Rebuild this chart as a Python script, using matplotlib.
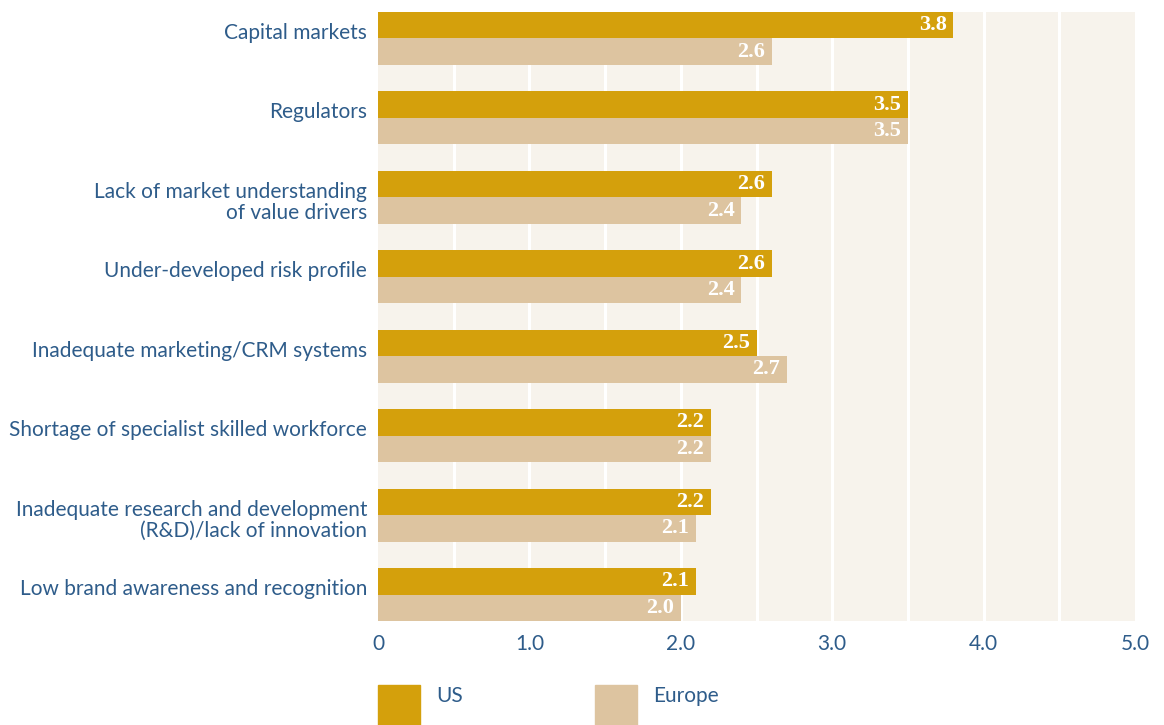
import matplotlib.pyplot as plt
import matplotlib.transforms as mtransforms
from matplotlib.patches import Rectangle
import numpy as np

categories = [
    "Capital markets",
    "Regulators",
    "Lack of market understanding\nof value drivers",
    "Under-developed risk profile",
    "Inadequate marketing/CRM systems",
    "Shortage of specialist skilled workforce",
    "Inadequate research and development\n(R&D)/lack of innovation",
    "Low brand awareness and recognition",
]
us = [3.8, 3.5, 2.6, 2.6, 2.5, 2.2, 2.2, 2.1]
europe = [2.6, 3.5, 2.4, 2.4, 2.7, 2.2, 2.1, 2.0]
xticks = [0, 1, 2, 3, 4, 5]
xtick_labels = ["0", "1.0", "2.0", "3.0", "4.0", "5.0"]

US_COLOR = "#D4A00C"
EU_COLOR = "#DDC4A0"
BG_COLOR = "#F7F3EC"
TEXT_COLOR = "#2E5C8A"
SANS = ["Lato", "DejaVu Sans"]

fig = plt.figure(figsize=(11.64, 7.25), dpi=100)
ax = fig.add_axes([378 / 1164, 1 - 621 / 725, (1135 - 378) / 1164, 609 / 725])
ax.set_facecolor(BG_COLOR)

y = np.arange(len(categories))
h = 1 / 3

# light vertical gridlines every 0.5
for gx in np.arange(0.5, 5.0, 0.5):
    ax.axvline(gx, color="white", lw=2.2, zorder=1)

ax.barh(y - h / 2, us, height=h, color=US_COLOR, zorder=2)
ax.barh(y + h / 2, europe, height=h, color=EU_COLOR, zorder=2)

for yy, v in zip(y - h / 2, us):
    ax.text(v - 0.045, yy, f"{v:.1f}", ha="right", va="center", color="white",
            fontsize=16, fontweight="bold", family="Liberation Serif", zorder=3)
for yy, v in zip(y + h / 2, europe):
    ax.text(v - 0.045, yy, f"{v:.1f}", ha="right", va="center", color="white",
            fontsize=16, fontweight="bold", family="Liberation Serif", zorder=3)

ax.set_xlim(0, 5)
ax.set_ylim(len(categories) - 1 + h, -h)

ax.set_xticks(xticks)
ax.set_xticklabels(xtick_labels, family=SANS, fontsize=15, color=TEXT_COLOR)
ax.set_yticks([])
ax.tick_params(axis="both", length=0)
ax.tick_params(axis="x", pad=9)
for s in ax.spines.values():
    s.set_visible(False)

# category names hang from the top of each bar pair
label_tf = mtransforms.blended_transform_factory(ax.transAxes, ax.transData) + \
    mtransforms.ScaledTranslation(-11 / 100, -11 / 100, fig.dpi_scale_trans)
for yy, name in zip(y - h, categories):
    ax.text(0, yy, name, transform=label_tf, ha="right", va="top",
            family=SANS, fontsize=15, color=TEXT_COLOR, linespacing=1.05)

# legend squares along the bottom edge
for x0, col, label in [(378, US_COLOR, "US"), (595, EU_COLOR, "Europe")]:
    fig.add_artist(Rectangle((x0 / 1164, -0.02), 42 / 1164, (40 / 725) + 0.02,
                             transform=fig.transFigure, color=col))
    fig.text((x0 + 58) / 1164, 1 - 696 / 725, label, family=SANS, fontsize=15,
             color=TEXT_COLOR, va="center", ha="left")

fig.savefig("out.png", dpi=100)
